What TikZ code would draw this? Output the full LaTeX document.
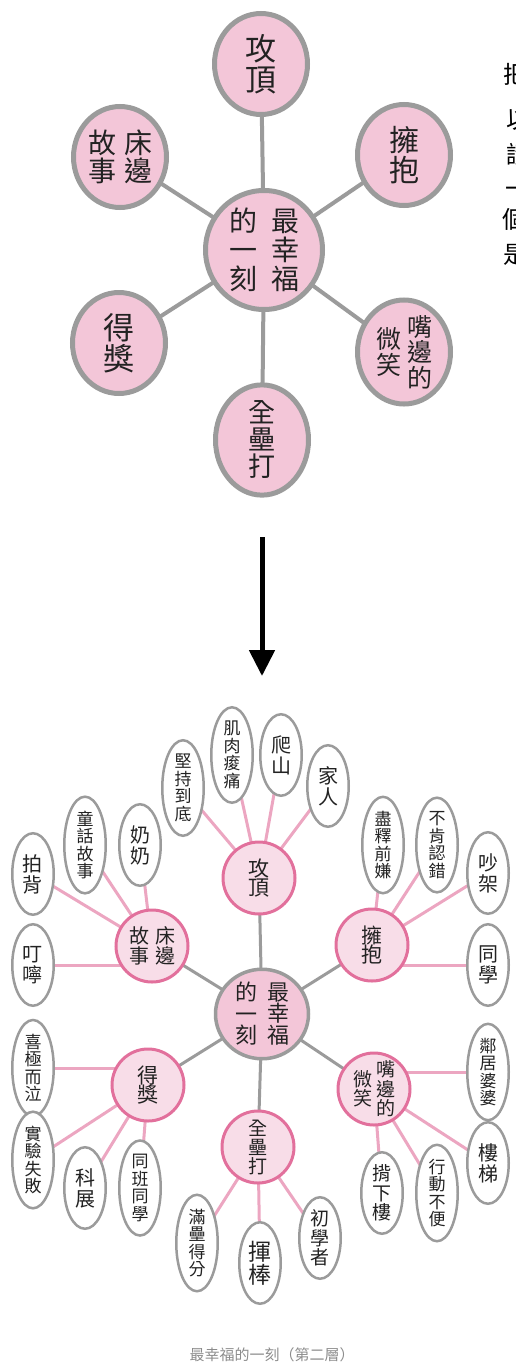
\documentclass[tikz,border=0pt]{standalone}
\usepackage{fontspec}
\newfontfamily\cjk{Noto Sans CJK TC}
\usetikzlibrary{shapes.geometric,backgrounds,arrows.meta}
\definecolor{pinkA}{RGB}{243,198,216}
\definecolor{greyB}{RGB}{155,155,155}
\definecolor{pinkB}{RGB}{226,112,156}
\definecolor{pinkL}{RGB}{236,166,193}
\definecolor{pinkF}{RGB}{248,221,232}
\definecolor{ink}{RGB}{34,34,34}
\definecolor{capgray}{RGB}{140,140,140}
\newcommand\vstk[1]{\ensuremath{\vcenter{\halign{\hfil##\hfil\cr#1\crcr}}}}
\newcommand\fs[2]{\fontsize{#1}{#2}\selectfont}
\tikzset{
  topc/.style={ellipse, draw=greyB, line width=5pt, fill=pinkA, minimum width=93pt, minimum height=101pt, inner sep=0pt, text=ink},
  topline/.style={draw=greyB, line width=4pt},
  midc/.style={ellipse, draw=greyB, line width=3.5pt, fill=pinkA, minimum width=93pt, minimum height=89pt, inner sep=0pt, text=ink},
  subc/.style={circle, draw=pinkB, line width=3pt, fill=pinkF, minimum size=72pt, inner sep=0pt, text=ink},
  leaf/.style={ellipse, draw=greyB, line width=2.5pt, fill=white, minimum width=41.5pt, minimum height=81.5pt, inner sep=0pt, text=ink, font=\cjk\fs{17}{17.5}},
  leaftwo/.style={leaf, font=\cjk\fs{20}{21}},
  leafthree/.style={leaf, font=\cjk\fs{19}{19.5}},
  greyline/.style={draw=greyB, line width=3pt},
  pinkline/.style={draw=pinkL, line width=3pt},
  edgetext/.style={anchor=west, font=\cjk\fs{24}{24}, inner sep=0pt},
}
\begin{document}
\begin{tikzpicture}[x=1pt,y=-1pt]
\useasboundingbox (0,0) rectangle (516,1365);
% ---------- top diagram ----------
\node[topc, minimum width=117pt, minimum height=119pt, font=\cjk\fs{28}{29}] (T0) at (264,250) {\vstk{的\cr 一\cr 刻}\hspace{14pt}\vstk{最\cr 幸\cr 福}};
\node[topc, font=\cjk\fs{31}{31}] (T1) at (261,64) {\vstk{攻\cr 頂}};
\node[topc, font=\cjk\fs{28}{28}] (T2) at (120,157) {\vstk{故\cr 事}\hspace{8pt}\vstk{床\cr 邊}};
\node[topc, font=\cjk\fs{30}{30}] (T3) at (404,155) {\vstk{擁\cr 抱}};
\node[topc, font=\cjk\fs{31}{31}] (T4) at (119,343) {\vstk{得\cr 獎}};
\node[topc, font=\cjk\fs{25}{25.5}] (T5) at (404,352) {\vstk{微\cr 笑}\hspace{6pt}\vstk{嘴\cr 邊\cr 的}};
\node[topc, font=\cjk\fs{27}{27}] (T6) at (262,440) {\vstk{全\cr 壘\cr 打}};
\begin{scope}[on background layer]
\foreach \t in {T1,T2,T3,T4,T5,T6} \draw[topline] (T0.center) -- (\t.center);
\end{scope}
% partially visible text at right edge (cut off in the reference too)
\node[edgetext] (r1) at (503,74) {把};
\node[edgetext] (r2) at (506,120) {以};
\node[edgetext] (r3) at (506,155) {請};
\node[edgetext] (r4) at (505,192) {一};
\node[edgetext] (r5) at (502,219) {個};
\node[edgetext] (r6) at (503,255) {是};
% ---------- arrow ----------
\coordinate (a1) at (262,537);
\coordinate (a2) at (262,676);
\draw[line width=5pt, -{Triangle[length=26pt,width=25pt]}] (a1) -- (a2);
% ---------- bottom diagram ----------
\node[midc, font=\cjk\fs{22}{21.5}] (B0) at (262,1014) {\vstk{的\cr 一\cr 刻}\hspace{10pt}\vstk{最\cr 幸\cr 福}};
\node[subc, font=\cjk\fs{21}{19.5}] (S1) at (259,878) {\vstk{攻\cr 頂}};
\node[subc, font=\cjk\fs{20}{19.5}] (S2) at (152,946) {\vstk{故\cr 事}\hspace{6pt}\vstk{床\cr 邊}};
\node[subc, font=\cjk\fs{21}{19.5}] (S3) at (372,945) {\vstk{擁\cr 抱}};
\node[subc, font=\cjk\fs{21}{19.5}] (S4) at (148,1085) {\vstk{得\cr 獎}};
\node[subc, font=\cjk\fs{19}{19.5}] (S5) at (374,1089) {\vstk{微\cr 笑}\hspace{4pt}\vstk{嘴\cr 邊\cr 的}};
\node[subc, font=\cjk\fs{19}{19}] (S6) at (258,1147) {\vstk{全\cr 壘\cr 打}};
% leaves of 攻頂
\node[leaf] (L11) at (183,788) {\vstk{堅\cr 持\cr 到\cr 底}};
\node[leaf] (L12) at (232,755) {\vstk{肌\cr 肉\cr 痠\cr 痛}};
\node[leaftwo] (L13) at (281,755) {\vstk{爬\cr 山}};
\node[leaftwo] (L14) at (328,786) {\vstk{家\cr 人}};
% leaves of 床邊故事
\node[leaftwo] (L21) at (33,874) {\vstk{拍\cr 背}};
\node[leaf] (L22) at (85,845) {\vstk{童\cr 話\cr 故\cr 事}};
\node[leaftwo] (L23) at (140,845) {\vstk{奶\cr 奶}};
\node[leaftwo] (L24) at (33,965) {\vstk{叮\cr 嚀}};
% leaves of 擁抱
\node[leaf] (L31) at (383,845) {\vstk{盡\cr 釋\cr 前\cr 嫌}};
\node[leaf] (L32) at (437,845) {\vstk{不\cr 肯\cr 認\cr 錯}};
\node[leaftwo] (L33) at (488,873) {\vstk{吵\cr 架}};
\node[leaftwo] (L34) at (488,965) {\vstk{同\cr 學}};
% leaves of 得獎
\node[leaf] (L41) at (33,1068) {\vstk{喜\cr 極\cr 而\cr 泣}};
\node[leaf] (L42) at (33,1160) {\vstk{實\cr 驗\cr 失\cr 敗}};
\node[leaftwo] (L43) at (85,1188) {\vstk{科\cr 展}};
\node[leaf] (L44) at (140,1188) {\vstk{同\cr 班\cr 同\cr 學}};
% leaves of 全壘打
\node[leaf] (L61) at (197,1243) {\vstk{滿\cr 壘\cr 得\cr 分}};
\node[leaftwo, font=\cjk\fs{23}{23}] (L62) at (260,1263) {\vstk{揮\cr 棒}};
\node[leafthree] (L63) at (320,1238) {\vstk{初\cr 學\cr 者}};
% leaves of 嘴邊的微笑
\node[leafthree] (L51) at (382,1193) {\vstk{揹\cr 下\cr 樓}};
\node[leaf] (L52) at (437,1193) {\vstk{行\cr 動\cr 不\cr 便}};
\node[leaftwo] (L53) at (488,1163) {\vstk{樓\cr 梯}};
\node[leaf] (L54) at (488,1072) {\vstk{鄰\cr 居\cr 婆\cr 婆}};
\begin{scope}[on background layer]
\foreach \s in {S1,S2,S3,S4,S5,S6} \draw[greyline] (B0.center) -- (\s.center);
\foreach \l in {L11,L12,L13,L14} \draw[pinkline] (S1.center) -- (\l.center);
\foreach \l in {L21,L22,L23} \draw[pinkline] (S2.center) -- (\l.center);
\draw[pinkline] (L24.center) -- (L24.center -| S2.center);
\foreach \l in {L31,L32,L33} \draw[pinkline] (S3.center) -- (\l.center);
\draw[pinkline] (L34.center) -- (L34.center -| S3.center);
\foreach \l in {L42,L43,L44} \draw[pinkline] (S4.center) -- (\l.center);
\draw[pinkline] (L41.center) -- (L41.center -| S4.center);
\foreach \l in {L61,L62,L63} \draw[pinkline] (S6.center) -- (\l.center);
\foreach \l in {L51,L52,L53} \draw[pinkline] (S5.center) -- (\l.center);
\draw[pinkline] (L54.center) -- (L54.center -| S5.center);
\end{scope}
\node[font=\cjk\fs{15}{15}, text=capgray] (cap) at (272,1355) {最幸福的一刻（第二層）};
\end{tikzpicture}
\end{document}
